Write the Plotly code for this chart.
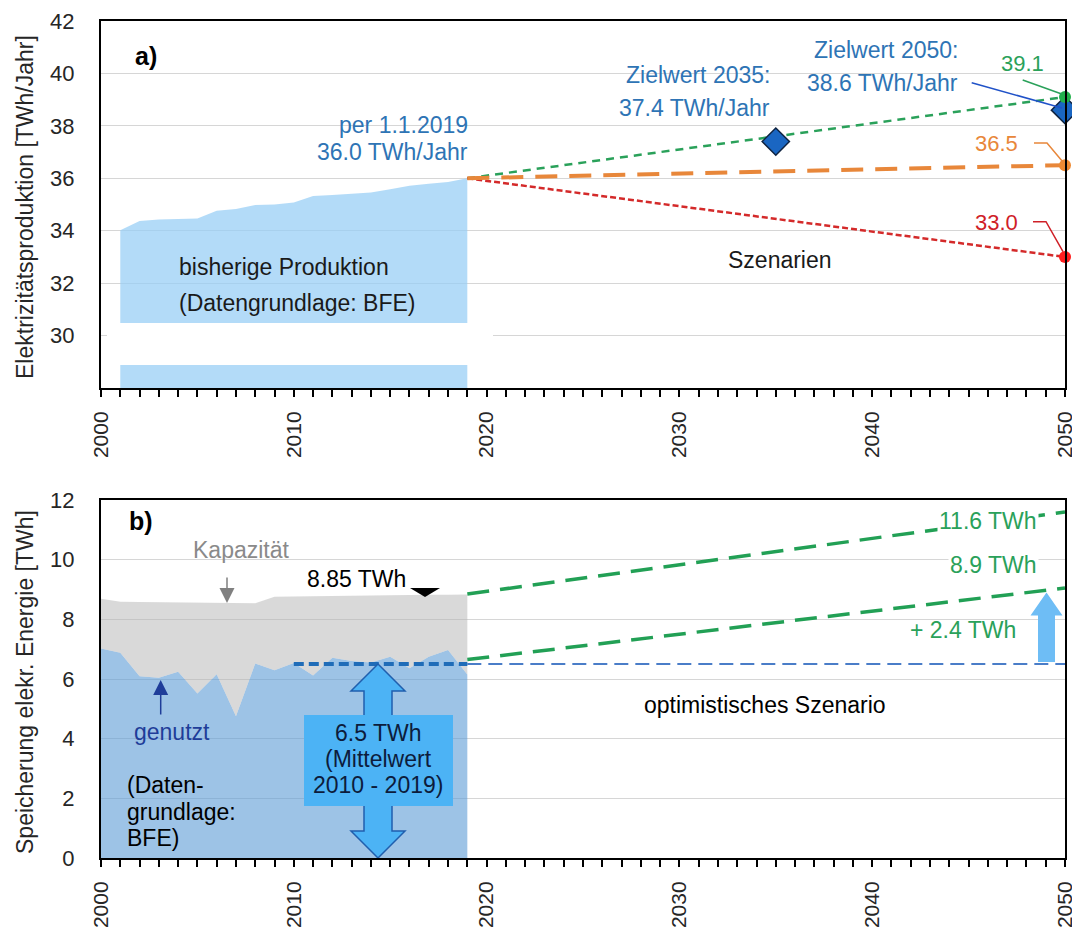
import plotly.graph_objects as go

# ---------------- data ----------------
prod_years = list(range(2001, 2020))
prod_twh = [34.02, 34.37, 34.43, 34.44, 34.47, 34.76, 34.83, 34.98, 35.0, 35.08,
            35.32, 35.36, 35.4, 35.46, 35.58, 35.72, 35.79, 35.86, 36.0]
scen_years = [2019, 2050]
scen_high = [36.0, 39.1]
scen_mid = [36.0, 36.5]
scen_low = [36.0, 33.0]
target_years = [2035, 2050]
target_vals = [37.4, 38.6]

stor_years = list(range(2000, 2020))
stor_used = [7.02, 6.88, 6.09, 6.04, 6.24, 5.51, 6.16, 4.75, 6.52, 6.29,
             6.54, 6.12, 6.71, 6.60, 6.55, 6.75, 6.36, 6.75, 6.97, 6.15]
stor_cap = [8.69, 8.59, 8.58, 8.57, 8.57, 8.56, 8.56, 8.55, 8.54, 8.76,
            8.77, 8.78, 8.78, 8.79, 8.80, 8.80, 8.81, 8.82, 8.82, 8.83]
mean_years = [2010, 2019]
mean_used = 6.5
mean_ext_years = [2019, 2050]
cap_scen = [8.85, 11.6]
used_scen = [6.65, 9.05]
plus_used = 2.4

# ---------------- geometry (page pixels; the page body has an 8px margin) ----------------
OFF = 8
X0, X1 = 101, 1065
T0, T1 = 21, 388
B0, B1 = 500, 858
PAGE_W, PAGE_H = 1080, 927
W, H = PAGE_W - OFF, PAGE_H - OFF
MT = T0

def xd(px):
    return 2000 + (px - X0) / (X1 - X0) * 50

def yt(py):
    return 42 - (py - T0) / (T1 - T0) * 14

def yb(py):
    return 12 - (py - B0) / (B1 - B0) * 12

def pyb(v):
    return B1 - v * (B1 - B0) / 12

FONT = "Liberation Sans, Arial, sans-serif"
BLUE_T = "#2e74b5"
GREEN = "#2aa15a"
ORANGE = "#e8873a"
RED = "#cf2027"

fig = go.Figure()

# ---------------- top panel ----------------
fig.add_trace(go.Scatter(x=prod_years, y=prod_twh, mode="lines", fill="tozeroy",
                         line=dict(width=0), fillcolor="rgba(149,205,245,0.72)",
                         xaxis="x", yaxis="y", hoverinfo="skip"))
fig.add_trace(go.Scatter(x=scen_years, y=scen_high, mode="lines",
                         line=dict(color=GREEN, width=2.5, dash="8px,6px"), xaxis="x", yaxis="y"))
fig.add_trace(go.Scatter(x=scen_years, y=scen_low, mode="lines",
                         line=dict(color="#d42a2a", width=2.5, dash="6px,3px"), xaxis="x", yaxis="y"))
fig.add_trace(go.Scatter(x=scen_years, y=scen_mid, mode="lines",
                         line=dict(color=ORANGE, width=4, dash="22px,12px"), xaxis="x", yaxis="y"))
fig.add_trace(go.Scatter(x=target_years, y=target_vals, mode="markers", cliponaxis=False,
                         marker=dict(symbol="diamond", size=21, color="#1a66c2",
                                     line=dict(color="#0f2340", width=1.5)), xaxis="x", yaxis="y"))
fig.add_trace(go.Scatter(x=[scen_years[1]] * 3, y=[scen_high[1], scen_mid[1], scen_low[1]],
                         mode="markers", cliponaxis=False,
                         marker=dict(size=12, color=["#22b04b", "#ee8a33", "#ff1f1f"]),
                         xaxis="x", yaxis="y"))

# ---------------- bottom panel ----------------
fig.add_trace(go.Scatter(x=stor_years, y=stor_used, mode="lines", fill="tozeroy",
                         line=dict(width=0), fillcolor="rgba(92,155,213,0.6)",
                         xaxis="x2", yaxis="y2", hoverinfo="skip"))
fig.add_trace(go.Scatter(x=stor_years, y=stor_cap, mode="lines", fill="tonexty",
                         line=dict(width=0), fillcolor="rgba(179,179,179,0.5)",
                         xaxis="x2", yaxis="y2", hoverinfo="skip"))
fig.add_trace(go.Scatter(x=mean_ext_years, y=[mean_used] * 2, mode="lines",
                         line=dict(color="#4a7dc8", width=2, dash="14px,7px"), xaxis="x2", yaxis="y2"))
fig.add_trace(go.Scatter(x=mean_years, y=[mean_used] * 2, mode="lines",
                         line=dict(color="#1f6cb8", width=4, dash="10px,5px"), xaxis="x2", yaxis="y2"))
fig.add_trace(go.Scatter(x=scen_years, y=cap_scen, mode="lines",
                         line=dict(color="#22a055", width=3.5, dash="22px,11px"), xaxis="x2", yaxis="y2"))
fig.add_trace(go.Scatter(x=scen_years, y=used_scen, mode="lines",
                         line=dict(color="#22a055", width=3.5, dash="22px,11px"), xaxis="x2", yaxis="y2"))

# ---------------- shapes ----------------
shapes = []

def rect_top(x0, x1, y0, y1, layer="below", color="white"):
    shapes.append(dict(type="rect", xref="x", yref="y", x0=xd(x0), x1=xd(x1), y0=yt(y1), y1=yt(y0),
                       fillcolor=color, line=dict(width=0), layer=layer))

def rect_bot(x0, x1, y0, y1, layer="below", color="white", line=None):
    shapes.append(dict(type="rect", xref="x2", yref="y2", x0=xd(x0), x1=xd(x1), y0=yb(y1), y1=yb(y0),
                       fillcolor=color, line=line or dict(width=0), layer=layer))

def path(points, panel, fill=None, line_color=None, lw=1.5, closed=False, layer="above"):
    yf = yt if panel == "top" else yb
    s = "M " + " L ".join(f"{xd(px):.4f},{yf(py):.4f}" for px, py in points)
    if closed:
        s += " Z"
    d = dict(type="path", path=s, xref="x" if panel == "top" else "x2",
             yref="y" if panel == "top" else "y2", layer=layer)
    d["fillcolor"] = fill if fill else "rgba(0,0,0,0)"
    d["line"] = dict(color=line_color, width=lw) if line_color else dict(width=0)
    shapes.append(d)

# axis-break band in the top panel
rect_top(107, 493, 323, 365, layer="above")
# gridline masks behind label boxes
rect_top(269, 489, 122, 130)
rect_top(564, 791, 122, 130)
rect_top(564, 977, 69, 77)
rect_top(1000, 1050, 69, 77)
rect_top(960, 1022, 227, 235)
rect_bot(174, 306, 556, 564)

# connectors top
path([(1022.7, 80), (1061.7, 94)], "top", line_color=GREEN, lw=1.5)
path([(971.7, 82.7), (1062, 108)], "top", line_color="#2052c8", lw=1.5)
path([(1034, 143), (1047, 143), (1062.7, 161.7)], "top", line_color=ORANGE, lw=1.5)
path([(1033, 221.7), (1046, 221.7), (1063, 251.7)], "top", line_color=RED, lw=1.5)

# double arrow (mean 2010-2019)
cx = 378
ptop = pyb(mean_used)
hl, hw, sw = 27, 27, 14
path([(cx, ptop), (cx + hw, ptop + hl), (cx + sw, ptop + hl), (cx + sw, B1 - hl), (cx + hw, B1 - hl),
      (cx, B1), (cx - hw, B1 - hl), (cx - sw, B1 - hl), (cx - sw, ptop + hl), (cx - hw, ptop + hl)],
     "bot", fill="#4cb3f5", line_color="#1f5fae", lw=1.5, closed=True)
# box
rect_bot(304, 453, 715, 806, layer="above", color="#4cb3f5")
# up arrow (+2.4)
ux = 1046.5
ubot = pyb(mean_used) - 2
utip = pyb(mean_used + plus_used)
path([(ux, utip), (ux + 16, utip + 23), (ux + 8.5, utip + 23), (ux + 8.5, ubot), (ux - 8.5, ubot),
      (ux - 8.5, utip + 23), (ux - 16, utip + 23)], "bot", fill="#6ebdf5", closed=True)
# black triangle marker at capacity 8.85
path([(410, 588), (440, 588), (425, 597)], "bot", fill="black", closed=True)

# ---------------- annotations ----------------
ann = []

def txt(s, px, py, panel, xanchor="center", color="#1a1a1a", size=23, bold=False, bg=None):
    yf = yt if panel == "top" else yb
    a = dict(text=f"<b>{s}</b>" if bold else s, x=xd(px), y=yf(py),
             xref="x" if panel == "top" else "x2", yref="y" if panel == "top" else "y2",
             xanchor=xanchor, yanchor="middle", showarrow=False,
             font=dict(family=FONT, size=size, color=color))
    if bg:
        a["bgcolor"] = bg
        a["borderpad"] = 1
    ann.append(a)

def arrow(px, py_tail, py_tip, color, width=1.5):
    ann.append(dict(x=xd(px), y=yb(py_tip), xref="x2", yref="y2", ax=0, ay=py_tail - py_tip,
                    axref="pixel", ayref="pixel", text="", showarrow=True, arrowhead=2,
                    arrowsize=2, arrowwidth=width, arrowcolor=color, standoff=0))

# top
txt("a)", 133, 56, "top", xanchor="left", color="black", size=25, bold=True)
txt("per 1.1.2019", 470, 125, "top", xanchor="right", color=BLUE_T)
txt("36.0 TWh/Jahr", 470, 152, "top", xanchor="right", color=BLUE_T)
txt("Zielwert 2035:", 772, 75, "top", xanchor="right", color=BLUE_T)
txt("37.4 TWh/Jahr", 772, 108, "top", xanchor="right", color=BLUE_T)
txt("Zielwert 2050:", 960, 50, "top", xanchor="right", color=BLUE_T)
txt("38.6 TWh/Jahr", 960, 83, "top", xanchor="right", color=BLUE_T)
txt("39.1", 1022, 63, "top", color=GREEN, size=22)
txt("36.5", 1020, 143, "top", xanchor="right", color=ORANGE, size=22)
txt("33.0", 1020, 222, "top", xanchor="right", color=RED, size=22)
txt("bisherige Produktion", 177, 267, "top", xanchor="left")
txt("(Datengrundlage: BFE)", 177, 303, "top", xanchor="left")
txt("Szenarien", 780, 260, "top")

# bottom
txt("b)", 127, 521, "bot", xanchor="left", color="black", size=25, bold=True)
txt("Kapazität", 241, 550, "bot", color="#8a8a8a")
arrow(227, 576, 603, "#808080")
txt("8.85 TWh", 305, 579, "bot", xanchor="left", color="black")
txt("genutzt", 132, 732, "bot", xanchor="left", color="#1f3d99")
arrow(160.7, 716, 680, "#1f3d99")
txt("(Daten-", 125, 785, "bot", xanchor="left", color="black")
txt("grundlage:", 125, 812, "bot", xanchor="left", color="black")
txt("BFE)", 125, 838, "bot", xanchor="left", color="black")
txt("6.5 TWh", 378, 733, "bot", color="#0c1c3c")
txt("(Mittelwert", 378, 759, "bot", color="#0c1c3c")
txt("2010 - 2019)", 378, 785, "bot", color="#0c1c3c")
txt("optimistisches Szenario", 765, 705, "bot", color="black")
txt("11.6 TWh", 1039, 521, "bot", xanchor="right", color=GREEN, bg="white")
txt("8.9 TWh", 1039, 565, "bot", xanchor="right", color=GREEN, bg="white")
txt("+ 2.4 TWh", 1018, 630, "bot", xanchor="right", color=GREEN)

# axis titles
def ytitle(s, py):
    ann.append(dict(text=s, x=(25 - X0) / (X1 - X0), y=(B1 - py) / (B1 - MT),
                    xref="paper", yref="paper", textangle=-90, showarrow=False,
                    xanchor="center", yanchor="middle",
                    font=dict(family=FONT, size=23, color="#262626")))

ytitle("Elektrizitätsproduktion [TWh/Jahr]", 207)
ytitle("Speicherung elekr. Energie [TWh]", 682)

# ---------------- layout ----------------
xcommon = dict(range=[2000, 2050], tickmode="linear", tick0=2000, dtick=10, tickangle=-90,
               ticks="outside", ticklen=7, tickwidth=1.5, tickcolor="black",
               minor=dict(dtick=1, ticks="outside", ticklen=7, tickwidth=1.5, tickcolor="black"),
               showline=True, linecolor="black", linewidth=2, mirror=True,
               showgrid=False, zeroline=False, automargin=False, ticklabelstandoff=6,
               tickfont=dict(family=FONT, size=21, color="#262626"))
ycommon = dict(showline=True, linecolor="black", linewidth=2, mirror=True,
               showgrid=True, gridcolor="#d6d6d6", gridwidth=1, zeroline=False,
               ticks="", ticklabelstandoff=20, automargin=False,
               tickfont=dict(family=FONT, size=22, color="#262626"))

top_dom = [(B1 - T1) / (B1 - MT), 1.0]
bot_dom = [0.0, (B1 - B0) / (B1 - MT)]

fig.update_layout(
    width=W, height=H,
    margin=dict(l=X0 - OFF, r=PAGE_W - X1, t=T0 - OFF, b=PAGE_H - B1),
    paper_bgcolor="white", plot_bgcolor="white",
    showlegend=False,
    font=dict(family=FONT),
    xaxis=dict(**xcommon, anchor="y", domain=[0, 1]),
    yaxis=dict(**ycommon, anchor="x", domain=top_dom, range=[28, 42],
               tickvals=[30, 32, 34, 36, 38, 40, 42]),
    xaxis2=dict(**xcommon, anchor="y2", domain=[0, 1]),
    yaxis2=dict(**ycommon, anchor="x2", domain=bot_dom, range=[0, 12],
                tickvals=[0, 2, 4, 6, 8, 10, 12]),
    shapes=shapes,
    annotations=ann,
)

fig.write_html("out.html")
